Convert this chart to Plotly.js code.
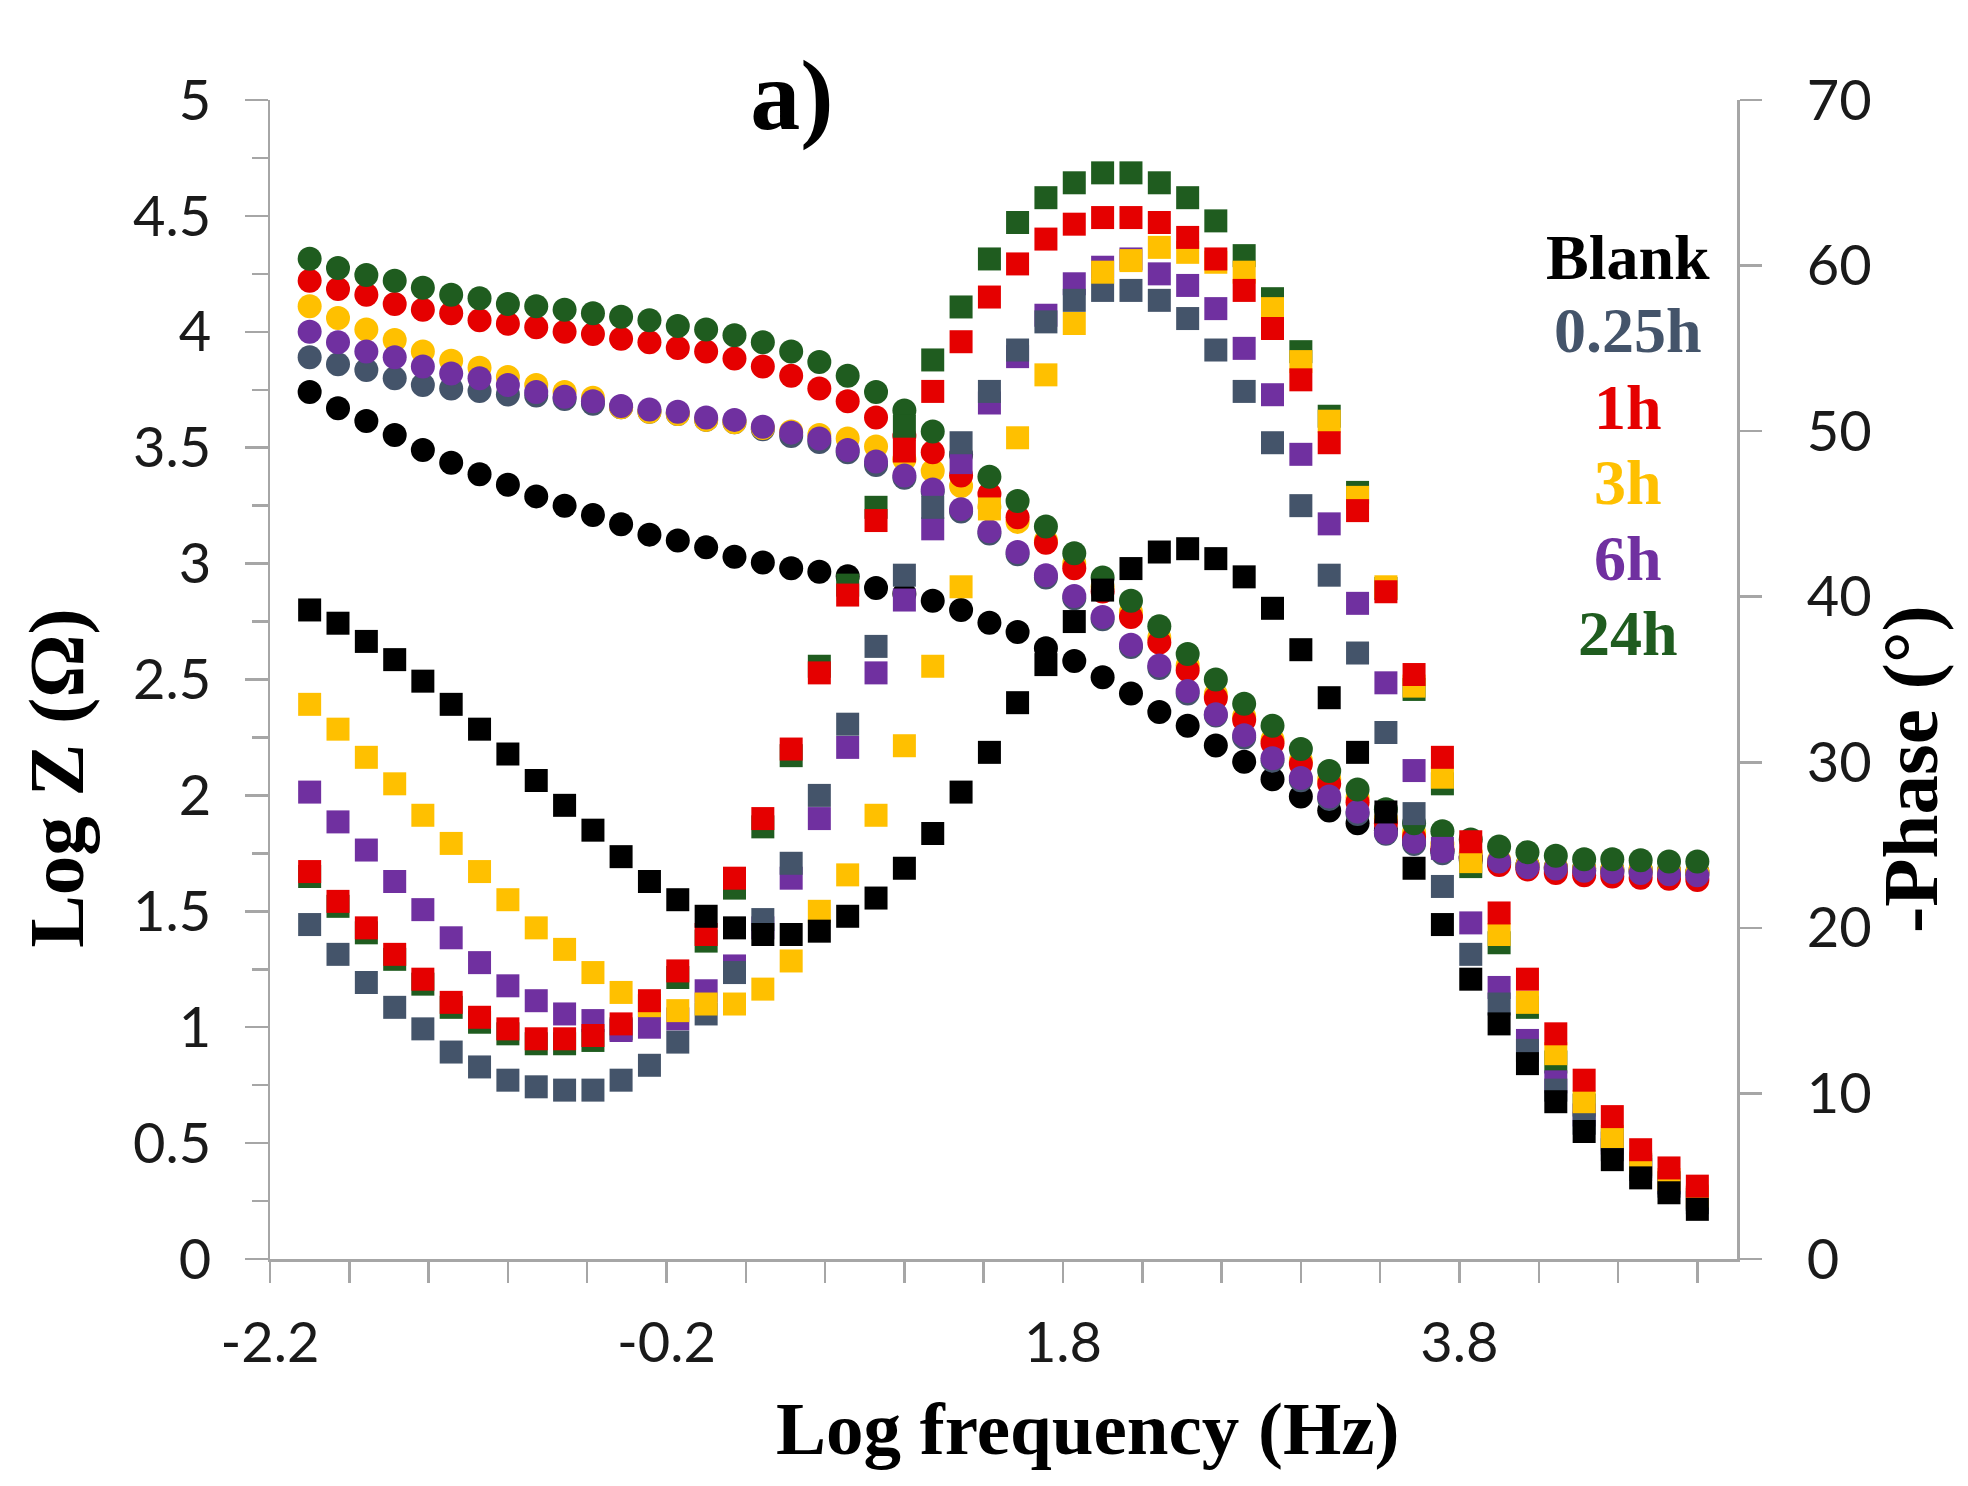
<!DOCTYPE html>
<html>
<head>
<meta charset="utf-8">
<script src="https://cdn.plot.ly/plotly-3.0.1.min.js"></script>
<style>
  html, body { margin: 0; padding: 0; background: #fff; }
  #eis-plot { width: 1968px; height: 1486px; }
</style>
</head>
<body>
<div id="eis-plot"></div>
<script>
// log frequency (Hz), 7 points per decade
var logFreq = [-2, -1.857, -1.714, -1.571, -1.429, -1.286, -1.143, -1, -0.857, -0.714,
  -0.571, -0.429, -0.286, -0.143, 0, 0.143, 0.286, 0.429, 0.571, 0.714,
  0.857, 1, 1.143, 1.286, 1.429, 1.571, 1.714, 1.857, 2, 2.143,
  2.286, 2.429, 2.571, 2.714, 2.857, 3, 3.143, 3.286, 3.429, 3.571,
  3.714, 3.857, 4, 4.143, 4.286, 4.429, 4.571, 4.714, 4.857, 5];

// Log Z (ohm) - circles
var logZBlank = [3.74, 3.67, 3.615, 3.555, 3.49, 3.435, 3.385, 3.34, 3.29, 3.25,
  3.21, 3.17, 3.125, 3.10, 3.07, 3.03, 3.005, 2.98, 2.965, 2.945,
  2.895, 2.87, 2.84, 2.80, 2.745, 2.705, 2.635, 2.58, 2.51, 2.44,
  2.36, 2.30, 2.215, 2.145, 2.07, 1.995, 1.935, 1.88, 1.85, 1.80,
  1.76, 1.73, 1.71, 1.70, 1.69, 1.685, 1.68, 1.68, 1.675, 1.67];
var logZ025h = [3.89, 3.86, 3.835, 3.80, 3.77, 3.755, 3.745, 3.73, 3.725, 3.71,
  3.69, 3.675, 3.655, 3.645, 3.62, 3.61, 3.58, 3.55, 3.525, 3.48,
  3.425, 3.37, 3.31, 3.225, 3.13, 3.04, 2.94, 2.85, 2.76, 2.64,
  2.55, 2.44, 2.345, 2.25, 2.15, 2.065, 1.985, 1.92, 1.835, 1.79,
  1.75, 1.72, 1.705, 1.69, 1.68, 1.675, 1.67, 1.67, 1.665, 1.66];
var logZ1h = [4.22, 4.185, 4.16, 4.12, 4.095, 4.08, 4.05, 4.035, 4.02, 4.0,
  3.99, 3.97, 3.955, 3.93, 3.915, 3.885, 3.85, 3.81, 3.755, 3.70,
  3.63, 3.55, 3.48, 3.38, 3.30, 3.20, 3.09, 2.98, 2.88, 2.77,
  2.66, 2.54, 2.42, 2.325, 2.225, 2.135, 2.05, 1.97, 1.88, 1.82,
  1.77, 1.73, 1.70, 1.68, 1.665, 1.655, 1.65, 1.645, 1.64, 1.635];
var logZ3h = [4.11, 4.06, 4.01, 3.965, 3.915, 3.875, 3.845, 3.805, 3.77, 3.74,
  3.715, 3.675, 3.655, 3.645, 3.62, 3.61, 3.585, 3.57, 3.555, 3.54,
  3.505, 3.45, 3.40, 3.335, 3.245, 3.18, 3.10, 3.00, 2.90, 2.79,
  2.68, 2.56, 2.435, 2.34, 2.24, 2.15, 2.07, 1.99, 1.90, 1.84,
  1.79, 1.75, 1.72, 1.70, 1.69, 1.685, 1.68, 1.68, 1.675, 1.67];
var logZ6h = [4.00, 3.955, 3.915, 3.89, 3.85, 3.82, 3.80, 3.77, 3.74, 3.72,
  3.70, 3.68, 3.665, 3.655, 3.63, 3.62, 3.59, 3.565, 3.54, 3.49,
  3.44, 3.38, 3.32, 3.235, 3.14, 3.05, 2.95, 2.86, 2.77, 2.65,
  2.56, 2.45, 2.35, 2.26, 2.16, 2.075, 1.995, 1.93, 1.84, 1.80,
  1.76, 1.735, 1.715, 1.69, 1.685, 1.675, 1.67, 1.665, 1.66, 1.655];
var logZ24h = [4.315, 4.275, 4.245, 4.22, 4.19, 4.16, 4.145, 4.12, 4.11, 4.095,
  4.08, 4.065, 4.05, 4.025, 4.01, 3.985, 3.955, 3.915, 3.87, 3.81,
  3.74, 3.66, 3.57, 3.47, 3.375, 3.27, 3.16, 3.045, 2.94, 2.84,
  2.73, 2.61, 2.50, 2.395, 2.30, 2.20, 2.105, 2.025, 1.94, 1.88,
  1.845, 1.81, 1.78, 1.755, 1.74, 1.725, 1.725, 1.72, 1.715, 1.715];

// -Phase (deg) - squares
var phaseBlank = [39.2, 38.4, 37.3, 36.2, 34.9, 33.5, 32.0, 30.5, 28.9, 27.4,
  25.9, 24.3, 22.8, 21.7, 20.7, 20.0, 19.6, 19.6, 19.8, 20.7,
  21.8, 23.6, 25.7, 28.2, 30.6, 33.6, 35.9, 38.5, 40.4, 41.7,
  42.7, 42.9, 42.3, 41.2, 39.3, 36.8, 33.9, 30.6, 27.0, 23.6,
  20.2, 16.9, 14.2, 11.8, 9.5, 7.7, 6.0, 4.9, 4.0, 3.0];
var phase025h = [20.2, 18.4, 16.7, 15.2, 13.9, 12.5, 11.6, 10.8, 10.4, 10.2,
  10.2, 10.8, 11.7, 13.1, 14.8, 17.3, 20.5, 23.9, 28.0, 32.3,
  37.0, 41.3, 45.4, 49.3, 52.4, 54.9, 56.6, 57.9, 58.5, 58.5,
  57.9, 56.8, 54.9, 52.4, 49.3, 45.5, 41.3, 36.6, 31.8, 26.9,
  22.5, 18.4, 15.4, 12.6, 10.2, 8.2, 6.6, 5.4, 4.4, 3.4];
var phase1h = [23.4, 21.6, 20.0, 18.4, 16.9, 15.5, 14.6, 13.9, 13.3, 13.3,
  13.5, 14.2, 15.6, 17.4, 19.6, 23.0, 26.6, 30.8, 35.4, 40.1,
  44.6, 48.8, 52.4, 55.4, 58.1, 60.1, 61.6, 62.5, 62.9, 62.9,
  62.6, 61.7, 60.4, 58.5, 56.2, 53.1, 49.3, 45.2, 40.3, 35.3,
  30.3, 25.2, 20.9, 16.9, 13.6, 10.8, 8.6, 6.6, 5.5, 4.4];
var phase3h = [33.5, 32.0, 30.3, 28.7, 26.8, 25.1, 23.4, 21.7, 20.0, 18.7,
  17.3, 16.1, 15.3, 15.0, 15.4, 15.4, 16.3, 18.0, 21.0, 23.2,
  26.8, 31.0, 35.8, 40.6, 45.3, 49.6, 53.4, 56.5, 59.6, 60.3,
  61.1, 60.8, 60.2, 59.6, 57.4, 54.2, 50.6, 46.0, 40.6, 34.6,
  29.1, 24.0, 19.6, 15.5, 12.4, 9.5, 7.4, 5.8, 4.8, 3.8];
var phase6h = [28.2, 26.4, 24.7, 22.8, 21.1, 19.4, 17.9, 16.5, 15.6, 14.8,
  14.4, 13.8, 14.0, 14.5, 16.2, 17.7, 20.0, 23.0, 26.6, 30.9,
  35.4, 39.8, 44.1, 48.1, 51.7, 54.5, 57.0, 58.9, 59.9, 60.4,
  59.5, 58.8, 57.4, 55.0, 52.2, 48.6, 44.4, 39.6, 34.8, 29.5,
  24.8, 20.3, 16.4, 13.2, 10.7, 8.7, 7.0, 5.7, 4.6, 3.7];
var phase24h = [23.1, 21.3, 19.7, 18.1, 16.6, 15.2, 14.3, 13.6, 13.0, 13.0,
  13.2, 13.9, 15.3, 17.0, 19.2, 22.4, 26.1, 30.4, 35.8, 40.7,
  45.4, 50.3, 54.3, 57.5, 60.4, 62.6, 64.1, 65.0, 65.6, 65.6,
  65.0, 64.1, 62.7, 60.6, 58.0, 54.8, 50.9, 46.3, 40.5, 34.4,
  28.7, 23.7, 19.1, 15.2, 11.9, 9.3, 7.2, 5.6, 4.6, 3.6];

var xTickVals = [-2.2, -0.2, 1.8, 3.8];
var xTickText = ['-2.2', '-0.2', '1.8', '3.8'];
var sampleNames = ['Blank', '0.25h', '1h', '3h', '6h', '24h'];
var sampleColors = ['#000000', '#44546a', '#e50000', '#ffc000', '#7030a0', '#1f5c1f'];

var axisGray = '#a6a6a6';
var tickFont = { family: 'Lato, "DejaVu Sans", sans-serif', size: 56, color: '#1a1a1a' };
var serif = 'Liberation Serif, "Times New Roman", serif';

function circles(y, i) {
  return { x: logFreq, y: y, name: sampleNames[i] + ' Log Z', type: 'scatter', mode: 'markers',
    xaxis: 'x', yaxis: 'y', showlegend: false,
    marker: { symbol: 'circle', size: 24, color: sampleColors[i], line: { width: 0 } } };
}
function squares(y, i) {
  return { x: logFreq, y: y, name: sampleNames[i] + ' -Phase', type: 'scatter', mode: 'markers',
    xaxis: 'x', yaxis: 'y2', showlegend: false,
    marker: { symbol: 'square', size: 23, color: sampleColors[i], line: { width: 0 } } };
}

var data = [
  circles(logZBlank, 0), circles(logZ025h, 1), circles(logZ3h, 3),
  circles(logZ1h, 2), circles(logZ6h, 4), circles(logZ24h, 5),
  squares(phase24h, 5), squares(phase6h, 4), squares(phase025h, 1),
  squares(phase3h, 3), squares(phase1h, 2), squares(phaseBlank, 0)
];

var legendY = [0.864, 0.801, 0.735, 0.670, 0.604, 0.540];
var annotations = sampleNames.map(function (n, i) {
  return { text: '<b>' + n + '</b>', xref: 'paper', yref: 'paper', x: 0.9257, y: legendY[i],
    xanchor: 'center', yanchor: 'middle', showarrow: false,
    font: { family: serif, size: 64, color: sampleColors[i] } };
});
annotations.push(
  { text: '<b>Log frequency (Hz)</b>', xref: 'paper', yref: 'paper', x: 0.5576, y: -0.146,
    xanchor: 'center', yanchor: 'middle', showarrow: false,
    font: { family: serif, size: 75, color: '#000' } },
  { text: '<b>Log Z (Ω)</b>', xref: 'paper', yref: 'paper', x: -0.146, y: 0.415, textangle: -90,
    xanchor: 'center', yanchor: 'middle', showarrow: false,
    font: { family: serif, size: 79, color: '#000' } },
  { text: '<b>-Phase (°)</b>', xref: 'paper', yref: 'paper', x: 1.1186, y: 0.4228, textangle: -90,
    xanchor: 'center', yanchor: 'middle', showarrow: false,
    font: { family: serif, size: 79, color: '#000' } }
);

var xCommon = { range: [-2.2, 5.2], tickmode: 'array', tickvals: xTickVals, ticktext: xTickText,
  ticklen: 21, tickwidth: 2.5, tickcolor: axisGray, showgrid: false, zeroline: false,
  minor: { tick0: -2.2, dtick: 0.4, ticklen: 21, tickwidth: 2.5, tickcolor: axisGray, showgrid: false } };
var yLeftCommon = { range: [0, 5], tick0: 0, dtick: 0.5, ticklen: 23, tickwidth: 2.5,
  tickcolor: axisGray, showgrid: false, zeroline: false,
  minor: { tick0: 0, dtick: 0.25, ticklen: 16, tickwidth: 2.5, tickcolor: axisGray, showgrid: false } };
var yRightCommon = { range: [0, 70], tick0: 0, dtick: 10, ticklen: 22, tickwidth: 2.5,
  tickcolor: axisGray, showgrid: false, zeroline: false };

var layout = {
  width: 1968, height: 1486, autosize: false,
  paper_bgcolor: '#fff', plot_bgcolor: '#fff',
  margin: { l: 270, r: 231, t: 100, b: 227 },
  title: { text: '<b>a)</b>', x: 0.4024, xanchor: 'center', y: 0.9367, yanchor: 'middle',
    font: { family: serif, size: 100, color: '#000' } },
  showlegend: false,
  xaxis: Object.assign({}, xCommon, { anchor: 'y', side: 'bottom', ticks: 'outside',
    showline: true, linecolor: axisGray, linewidth: 2.5, tickfont: tickFont, ticklabelstandoff: 12,
    minor: Object.assign({}, xCommon.minor, { ticks: 'outside' }) }),
  xaxis2: Object.assign({}, xCommon, { anchor: 'y', overlaying: 'x', side: 'bottom', ticks: 'inside',
    showline: false, showticklabels: false,
    minor: Object.assign({}, xCommon.minor, { ticks: 'inside' }) }),
  yaxis: Object.assign({}, yLeftCommon, { anchor: 'x', side: 'left', ticks: 'outside',
    showline: true, linecolor: axisGray, linewidth: 2.5, tickfont: tickFont, ticklabelstandoff: 22,
    minor: Object.assign({}, yLeftCommon.minor, { ticks: 'outside' }) }),
  yaxis2: Object.assign({}, yRightCommon, { anchor: 'x', overlaying: 'y', side: 'right', ticks: 'outside',
    showline: true, linecolor: axisGray, linewidth: 2.5, tickfont: tickFont, ticklabelstandoff: 34 }),
  yaxis3: Object.assign({}, yLeftCommon, { anchor: 'x', overlaying: 'y', side: 'left', ticks: 'inside',
    showline: false, showticklabels: false,
    minor: Object.assign({}, yLeftCommon.minor, { ticks: 'inside' }) }),
  yaxis4: Object.assign({}, yRightCommon, { anchor: 'x', overlaying: 'y', side: 'right', ticks: 'inside',
    showline: false, showticklabels: false }),
  annotations: annotations
};

Plotly.newPlot('eis-plot', data, layout, { displayModeBar: false, staticPlot: true });
</script>
</body>
</html>
